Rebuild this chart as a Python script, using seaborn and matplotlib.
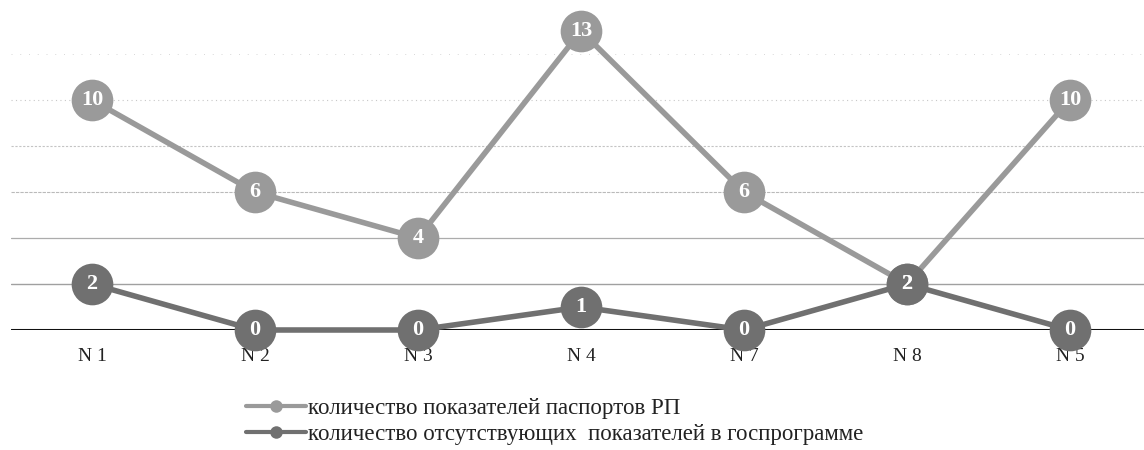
import numpy as np
import pandas as pd
import matplotlib
matplotlib.use('Agg')
import matplotlib.pyplot as plt
import seaborn as sns
from matplotlib.lines import Line2D

# Data
categories = ['N 1', 'N 2', 'N 3', 'N 4', 'N 7', 'N 8', 'N 5']
passport_counts = [10, 6, 4, 13, 6, 2, 10]
missing_counts = [2, 0, 0, 1, 0, 2, 0]
series_names = ['количество показателей паспортов РП',
                'количество отсутствующих  показателей в госпрограмме']
series_colors = ['#9a9a9a', '#707070']

sns.set_theme(style='white')
plt.rcParams['font.family'] = ['Liberation Serif', 'DejaVu Serif']

df = pd.DataFrame({
    'category': categories * 2,
    'value': passport_counts + missing_counts,
    'series': [series_names[0]] * len(categories) + [series_names[1]] * len(categories),
})

fig = plt.figure(figsize=(11.44, 4.5), dpi=100)
ax = fig.add_axes([10.5 / 1144, 120 / 450, 1 - 10.5 / 1144, 322 / 450])

sns.lineplot(data=df, x='category', y='value', hue='series', sort=False,
             palette=series_colors, marker='o', markersize=30, linewidth=4,
             markeredgewidth=0, legend=False, ax=ax, clip_on=False, zorder=3)

# value labels inside the markers
for vals in (passport_counts, missing_counts):
    for i, v in enumerate(vals):
        ax.text(i, v, str(v), ha='center', va='center', color='white',
                fontsize=16, fontweight='bold', zorder=5)

ax.set_xlim(-0.5, 6.454)
ax.set_ylim(0, 14)
ax.set_yticks([2, 4, 6, 8, 10, 12])
ax.set_yticklabels([])
ax.tick_params(axis='y', length=0)
ax.tick_params(axis='x', length=0, pad=13, labelsize=14, colors='#222222')
ax.set_xlabel('')
ax.set_ylabel('')
for s in ax.spines.values():
    s.set_visible(False)

# gridlines, fading towards the top like the scan
grid_styles = [
    ('#a0a0a0', '-', 1.0),
    ('#acacac', '-', 0.9),
    ('#bababa', (0, (3, 1)), 0.8),
    ('#c4c4c4', (0, (2, 1.5)), 0.8),
    ('#c8c8c8', (0, (1, 3)), 0.8),
    ('#d8d8d8', (0, (1, 8)), 0.7),
]
for y, (c, ls, lw) in zip([2, 4, 6, 8, 10, 12], grid_styles):
    ax.axhline(y, color=c, linestyle=ls, linewidth=lw, zorder=1)
ax.axhline(0, color='#111111', linewidth=2.2, zorder=2)

# legend
handles = [Line2D([0], [0], color=c, lw=3, marker='o', markersize=9,
                  markeredgewidth=0) for c in series_colors]
fig.legend(handles, series_names, loc='upper left',
           bbox_to_anchor=(246 / 1144, 1 - 398 / 450), frameon=False,
           fontsize=16.5, handlelength=2.6, handletextpad=0.1,
           labelspacing=0.2, borderaxespad=0, borderpad=0,
           labelcolor='#222222')

fig.savefig('out.png', dpi=100)
